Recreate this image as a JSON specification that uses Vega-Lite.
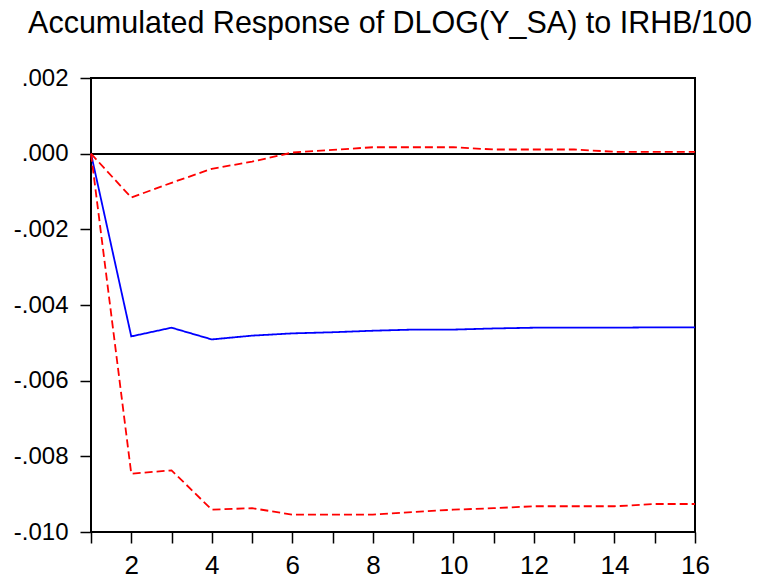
{
  "$schema": "https://vega.github.io/schema/vega-lite/v6.json",
  "autosize": "none",
  "width": 604,
  "height": 454,
  "padding": {"left": 91, "top": 78, "right": 73, "bottom": 46},
  "background": "white",
  "title": {
    "text": "Accumulated Response of DLOG(Y_SA) to IRHB/100",
    "font": "Liberation Sans",
    "fontSize": 30.5,
    "fontWeight": "normal",
    "color": "#000000",
    "anchor": "middle",
    "baseline": "alphabetic",
    "offset": 3,
    "dx": -3
  },
  "config": {
    "view": {"stroke": "#000000", "strokeWidth": 2},
    "axis": {
      "grid": false,
      "domain": false,
      "tickColor": "#000000",
      "tickWidth": 1.5,
      "tickSize": 11,
      "labelFont": "Liberation Sans",
      "labelColor": "#000000",
      "title": null
    }
  },
  "data": {
    "values": [
      {"step": 1, "series": "response", "value": 0},
      {"step": 2, "series": "response", "value": -0.00483},
      {"step": 3, "series": "response", "value": -0.00460},
      {"step": 4, "series": "response", "value": -0.00491},
      {"step": 5, "series": "response", "value": -0.00481},
      {"step": 6, "series": "response", "value": -0.00475},
      {"step": 7, "series": "response", "value": -0.00472},
      {"step": 8, "series": "response", "value": -0.00468},
      {"step": 9, "series": "response", "value": -0.00465},
      {"step": 10, "series": "response", "value": -0.00465},
      {"step": 11, "series": "response", "value": -0.00462},
      {"step": 12, "series": "response", "value": -0.00460},
      {"step": 13, "series": "response", "value": -0.00460},
      {"step": 14, "series": "response", "value": -0.00460},
      {"step": 15, "series": "response", "value": -0.00459},
      {"step": 16, "series": "response", "value": -0.00459},
      {"step": 1, "series": "upper", "value": 0},
      {"step": 2, "series": "upper", "value": -0.00116},
      {"step": 3, "series": "upper", "value": -0.00077},
      {"step": 4, "series": "upper", "value": -0.00040},
      {"step": 5, "series": "upper", "value": -0.00021},
      {"step": 6, "series": "upper", "value": 0.00003},
      {"step": 7, "series": "upper", "value": 0.00010},
      {"step": 8, "series": "upper", "value": 0.00017},
      {"step": 9, "series": "upper", "value": 0.00017},
      {"step": 10, "series": "upper", "value": 0.00017},
      {"step": 11, "series": "upper", "value": 0.00011},
      {"step": 12, "series": "upper", "value": 0.00011},
      {"step": 13, "series": "upper", "value": 0.00011},
      {"step": 14, "series": "upper", "value": 0.00005},
      {"step": 15, "series": "upper", "value": 0.00005},
      {"step": 16, "series": "upper", "value": 0.00005},
      {"step": 1, "series": "lower", "value": 0},
      {"step": 2, "series": "lower", "value": -0.00846},
      {"step": 3, "series": "lower", "value": -0.00837},
      {"step": 4, "series": "lower", "value": -0.00941},
      {"step": 5, "series": "lower", "value": -0.00937},
      {"step": 6, "series": "lower", "value": -0.00954},
      {"step": 7, "series": "lower", "value": -0.00954},
      {"step": 8, "series": "lower", "value": -0.00954},
      {"step": 9, "series": "lower", "value": -0.00947},
      {"step": 10, "series": "lower", "value": -0.00941},
      {"step": 11, "series": "lower", "value": -0.00937},
      {"step": 12, "series": "lower", "value": -0.00932},
      {"step": 13, "series": "lower", "value": -0.00932},
      {"step": 14, "series": "lower", "value": -0.00932},
      {"step": 15, "series": "lower", "value": -0.00926},
      {"step": 16, "series": "lower", "value": -0.00926}
    ]
  },
  "encoding": {
    "x": {
      "field": "step",
      "type": "quantitative",
      "scale": {"domain": [1, 16], "nice": false, "zero": false},
      "axis": {
        "values": [1,2,3,4,5,6,7,8,9,10,11,12,13,14,15,16],
        "labelExpr": "datum.value % 2 == 0 ? datum.label : ''",
        "labelFlush": false,
        "labelFontSize": 26,
        "labelPadding": 9
      }
    },
    "y": {
      "field": "value",
      "type": "quantitative",
      "scale": {"domain": [-0.010, 0.002], "nice": false, "zero": false},
      "axis": {
        "values": [-0.010, -0.008, -0.006, -0.004, -0.002, 0, 0.002],
        "labelExpr": "replace(replace(format(datum.value, '.3f'), '0.', '.'), '\u2212', '-')",
        "labelFontSize": 24,
        "labelPadding": 12
      }
    }
  },
  "layer": [
    {
      "mark": {"type": "rule", "color": "#000000", "strokeWidth": 1.5},
      "encoding": {"y": {"datum": 0}, "x": null}
    },
    {
      "mark": {"type": "line", "strokeWidth": 1.8},
      "encoding": {
        "detail": {"field": "series"},
        "color": {
          "field": "series",
          "type": "nominal",
          "scale": {"domain": ["response", "upper", "lower"], "range": ["#0000FF", "#FF0000", "#FF0000"]},
          "legend": null
        },
        "strokeDash": {
          "field": "series",
          "type": "nominal",
          "scale": {"domain": ["response", "upper", "lower"], "range": [[1, 0], [8, 4], [8, 4]]},
          "legend": null
        }
      }
    }
  ]
}
